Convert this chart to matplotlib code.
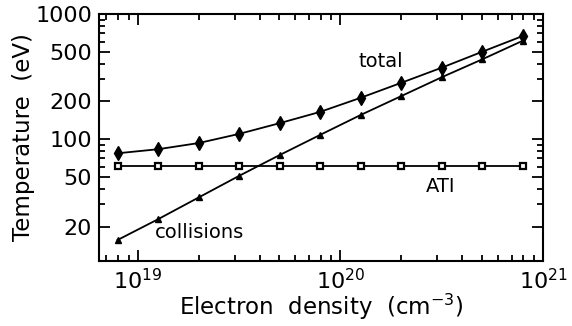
import matplotlib
matplotlib.use("Agg")
import matplotlib.pyplot as plt
from matplotlib.ticker import LogLocator, FixedLocator, NullFormatter

plt.rcParams['font.family'] = ['DejaVu Sans']
plt.rcParams['mathtext.fontset'] = 'dejavusans'

# electron density (cm^-3) and temperatures (eV)
density = [7.94e18, 1.26e19, 2.0e19, 3.16e19, 5.01e19, 7.94e19,
           1.26e20, 2.0e20, 3.16e20, 5.01e20, 7.94e20]
t_total = [77, 83, 93, 110, 134, 165, 214, 282, 372, 499, 667]
t_collisions = [15.6, 22.9, 34.2, 50.8, 74.5, 108, 156, 221, 312, 434, 611]
t_ati = [61, 61, 61, 61, 61, 61, 61, 61, 61, 61, 61]

y_ticks = [20, 50, 100, 200, 500, 1000]
y_ticklabels = ["20", "50", "100", "200", "500", "1000"]

fig = plt.figure(figsize=(5.72, 3.26), dpi=100)
ax = fig.add_axes([99 / 572, 65 / 326, 444 / 572, 247 / 326])

ax.plot(density, t_total, color='black', lw=1.3, marker='d', ms=7, mfc='black')
ax.plot(density, t_collisions, color='black', lw=1.3, marker='^', ms=5, mfc='black')
ax.plot(density, t_ati, color='black', lw=1.3, marker='s', ms=4.5, mfc='white',
        mec='black', mew=1.6)

ax.set_xscale('log')
ax.set_yscale('log')
ax.set_xlim(6.43e18, 1e21)
ax.set_ylim(10.6, 1000)

ax.yaxis.set_major_locator(FixedLocator(y_ticks))
ax.set_yticklabels(y_ticklabels)
ax.yaxis.set_minor_locator(FixedLocator([30, 40, 60, 70, 80, 90, 300, 400, 600, 700, 800, 900]))
ax.yaxis.set_minor_formatter(NullFormatter())
ax.xaxis.set_major_locator(LogLocator(base=10))
ax.xaxis.set_minor_locator(LogLocator(base=10, subs=range(2, 10)))
ax.xaxis.set_minor_formatter(NullFormatter())

ax.tick_params(which='both', direction='in', top=True, right=True, width=1.3,
               labelsize=16)
ax.tick_params(which='major', length=8)
ax.tick_params(which='minor', length=4)
ax.tick_params(axis='x', pad=5)
ax.tick_params(axis='y', pad=5)
for s in ax.spines.values():
    s.set_linewidth(1.5)

ax.set_xlabel(r"Electron  density  (cm$^{-3}$)", fontsize=16.5, labelpad=-1)
ax.set_ylabel("Temperature  (eV)", fontsize=16.5, labelpad=0)

ax.text(1.58e20, 415, "total", fontsize=14, ha='center', va='center')
ax.text(3.13e20, 41.5, "ATI", fontsize=14, ha='center', va='center')
ax.text(2.02e19, 17.8, "collisions", fontsize=14, ha='center', va='center')

fig.savefig("out.png", dpi=100)
